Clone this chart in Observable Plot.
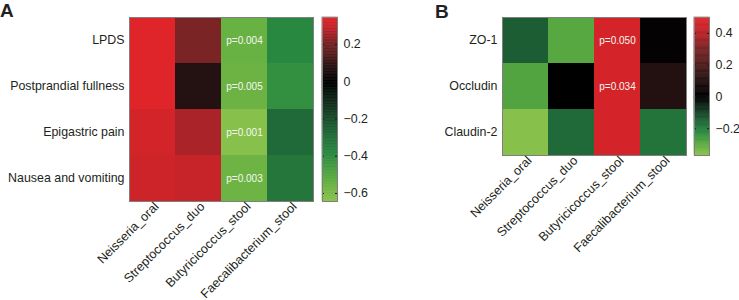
<!DOCTYPE html>
<html>
<head>
<meta charset="utf-8">
<script src="https://cdn.jsdelivr.net/npm/d3@7"></script>
<script src="https://cdn.jsdelivr.net/npm/@observablehq/plot@0.6"></script>
<style>
  body { margin: 0; background: #fff; }
  #root { position: relative; width: 739px; height: 300px; overflow: hidden; font-family: Arial, "Liberation Sans", sans-serif; }
  .part { position: absolute; top: 0; }
  .tag { position: absolute; font-weight: bold; font-size: 19px; color: #231f20; line-height: 1; }
</style>
</head>
<body>
<div id="root"></div>
<script>
// ---------- Data ----------
const colsA = ["Neisseria_oral", "Streptococcus_duo", "Butyricicoccus_stool", "Faecalibacterium_stool"];
const rowsA = ["LPDS", "Postprandial fullness", "Epigastric pain", "Nausea and vomiting"];
const valuesA = [
  [0.34, 0.21, -0.55, -0.38],
  [0.34, 0.07, -0.56, -0.41],
  [0.32, 0.26, -0.63, -0.28],
  [0.31, 0.30, -0.565, -0.32]
];
const pColumnA = "Butyricicoccus_stool";
const pLabelsA = ["p=0.004", "p=0.005", "p=0.001", "p=0.003"];
const colorDomainA = [-0.643, 0.345];
const ticksA = [0.2, 0, -0.2, -0.4, -0.6];

const colsB = ["Neisseria_oral", "Streptococcus_duo", "Butyricicoccus_stool", "Faecalibacterium_stool"];
const rowsB = ["ZO-1", "Occludin", "Claudin-2"];
const valuesB = [
  [-0.14, -0.29, 0.47, 0.01],
  [-0.28, 0.0, 0.47, 0.1],
  [-0.36, -0.16, 0.47, -0.18]
];
const pColumnB = "Butyricicoccus_stool";
const pLabelsB = ["p=0.050", "p=0.034", ""];
const colorDomainB = [-0.368, 0.5];
const ticksB = [0.4, 0.2, 0, -0.2];

// ---------- Style ----------
const rampStops = [0, 0.1, 0.2, 0.3, 0.4, 0.5, 0.62, 0.72, 0.8, 0.9, 1];
const rampColors = ["#8cc34c", "#5aaa40", "#2a8a40", "#1e6236", "#12331f", "#000000", "#2a1414", "#5a1e1e", "#782426", "#b82328", "#e2252a"];
const interp = d3.scaleLinear().domain(rampStops).range(rampColors).interpolate(d3.interpolateRgb).clamp(true);
const font = "Arial, 'Liberation Sans', sans-serif";
const fontSize = "12.4px";
const tickFmt = d => d === 0 ? "0" : d3.format(".1f")(d);
const hasAxisMarks = typeof Plot.axisX === "function";

function colorScale(domain) {
  return {type: "diverging", domain, pivot: 0, symmetric: false, interpolate: t => interp(t)};
}

function heatmap({cols, rows, values, pColumn, pLabels, domain, marginLeft, marginBottom}) {
  const cells = rows.flatMap((r, i) => cols.map((c, j) => ({row: r, col: c, value: values[i][j]})));
  const pcells = rows.map((r, i) => ({row: r, col: pColumn, p: pLabels[i]})).filter(d => d.p);
  const marks = [
    Plot.cell(cells, {x: "col", y: "row", fill: "value", inset: 0}),
    Plot.text(pcells, {x: "col", y: "row", text: "p", fill: "#f4f8f0", fontSize: 10}),
    Plot.frame({stroke: "#7f7f7f", strokeWidth: 1})
  ];
  if (hasAxisMarks) {
    marks.push(Plot.axisX({tickRotate: -45, tickSize: 0, tickPadding: 3, dx: 4, fontSize: 12.6, label: null}));
  }
  return Plot.plot({
    width: marginLeft + 184 + 10,
    height: 300,
    marginLeft, marginRight: 10, marginTop: 17, marginBottom,
    style: {fontFamily: font, fontSize, color: "#231f20", background: "transparent", overflow: "visible"},
    x: {type: "band", domain: cols, padding: 0, tickRotate: -45, tickSize: 0, tickPadding: 4, label: null},
    y: {type: "band", domain: rows, padding: 0, tickSize: 0, tickPadding: 5, label: null},
    color: colorScale(domain),
    marks
  });
}

function colorbar({domain, ticks, marginBottom}) {
  const n = 120;
  const step = (domain[1] - domain[0]) / n;
  const slices = d3.range(n).map(i => ({y1: domain[0] + i * step, y2: domain[0] + (i + 1) * step, v: domain[0] + (i + 0.5) * step}));
  return Plot.plot({
    width: 15 + 34,
    height: 300,
    marginLeft: 0, marginRight: 34, marginTop: 17, marginBottom,
    style: {fontFamily: font, fontSize, color: "#231f20", background: "transparent", overflow: "visible"},
    y: {domain, ticks, tickFormat: tickFmt, tickSize: 0, tickPadding: 6, label: null, axis: "right"},
    color: colorScale(domain),
    marks: [
      Plot.rect(slices, {y1: "y1", y2: "y2", fill: "v", stroke: "v", strokeWidth: 0.6}),
      Plot.ruleY(ticks, {stroke: "#1a1a1a", strokeWidth: 1, strokeDasharray: "2 11 2"}),
      Plot.frame({stroke: "#7f7f7f", strokeWidth: 1})
    ]
  });
}

const root = document.getElementById("root");
function place(node, left) {
  node.classList.add("part");
  node.style.left = left + "px";
  root.appendChild(node);
}

place(heatmap({cols: colsA, rows: rowsA, values: valuesA, pColumn: pColumnA, pLabels: pLabelsA, domain: colorDomainA, marginLeft: 129, marginBottom: 99}), 0);
place(colorbar({domain: colorDomainA, ticks: ticksA, marginBottom: 99}), 322);
place(heatmap({cols: colsB, rows: rowsB, values: valuesB, pColumn: pColumnB, pLabels: pLabelsB, domain: colorDomainB, marginLeft: 132, marginBottom: 145}), 370);
place(colorbar({domain: colorDomainB, ticks: ticksB, marginBottom: 145}), 694);

const tagA = document.createElement("div");
tagA.className = "tag"; tagA.textContent = "A"; tagA.style.left = "0px"; tagA.style.top = "1px";
root.appendChild(tagA);
const tagB = document.createElement("div");
tagB.className = "tag"; tagB.textContent = "B"; tagB.style.left = "435px"; tagB.style.top = "2px";
root.appendChild(tagB);
</script>
</body>
</html>
